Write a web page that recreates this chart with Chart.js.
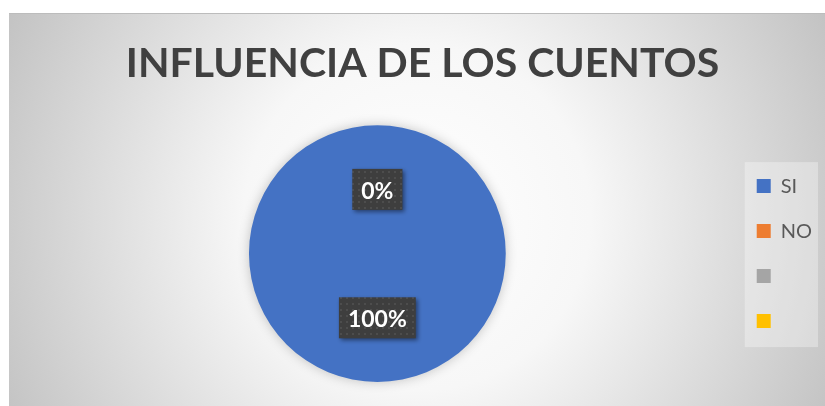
<!DOCTYPE html>
<html>
<head>
<meta charset="utf-8">
<script src="https://cdn.jsdelivr.net/npm/chart.js@4/dist/chart.umd.min.js"></script>
<style>
    html, body { margin: 0; padding: 0; background: #ffffff; overflow: hidden; }
    #box {
        position: absolute;
        left: 9px;
        top: 13px;
        width: 816px;
        height: 392px;
        border-top: 1px solid #bcbcbc;
        background: radial-gradient(circle farthest-corner at 50% 52%, #ffffff 0%, #f7f7f7 38%, #c3c3c3 100%);
    }
    canvas { display: block; }
</style>
</head>
<body>
<div id="box"><canvas id="chart" width="816" height="392"></canvas></div>
<script>
// ─── Data ──────────────────────────────────────────────────────────────────────

const titleText = "INFLUENCIA DE LOS CUENTOS";
const categories = ["SI", "NO", "", ""];
const percents = [100, 0, null, null];
const sliceColors = ["#4472C4", "#ED7D31", "#A5A5A5", "#FFC000"];

// ─── Plugins ───────────────────────────────────────────────────────────────────

// light backdrop behind the legend, like the Excel legend box
const legendBackdrop = {
    id: "legendBackdrop",
    beforeDraw(chart) {
        const lg = chart.legend;
        if (!lg || !lg.legendHitBoxes || !lg.legendHitBoxes.length) return;
        const hb = lg.legendHitBoxes;
        const last = hb[hb.length - 1];
        const x0 = hb[0].left - 12;
        const y0 = hb[0].top - 14;
        const x1 = lg.right - 4;
        const y1 = last.top + last.height + 16;
        const ctx = chart.ctx;
        ctx.save();
        ctx.fillStyle = "rgba(255,255,255,0.32)";
        ctx.fillRect(x0, y0, x1 - x0, y1 - y0);
        ctx.restore();
    },
};

// soft shadow under the pie
const pieShadow = {
    id: "pieShadow",
    beforeDatasetsDraw(chart) {
        const ctx = chart.ctx;
        ctx.save();
        ctx.shadowColor = "rgba(0,0,0,0.22)";
        ctx.shadowBlur = 12;
        ctx.shadowOffsetX = 0;
        ctx.shadowOffsetY = 0;
    },
    afterDatasetsDraw(chart) {
        chart.ctx.restore();
    },
};

function dotPattern(ctx) {
    const c = document.createElement("canvas");
    c.width = 6;
    c.height = 6;
    const p = c.getContext("2d");
    p.fillStyle = "#3e3e3e";
    p.fillRect(0, 0, 6, 6);
    p.fillStyle = "#4d4d4d";
    p.fillRect(1, 1, 2, 2);
    return ctx.createPattern(c, "repeat");
}

// dark boxed percentage labels at the middle of each slice
const boxedLabels = {
    id: "boxedLabels",
    afterDatasetsDraw(chart) {
        const ctx = chart.ctx;
        const meta = chart.getDatasetMeta(0);
        const data = chart.data.datasets[0].data;
        const fill = dotPattern(ctx);
        ctx.save();
        ctx.font = "bold 23px Lato, 'Open Sans', sans-serif";
        ctx.textAlign = "center";
        ctx.textBaseline = "middle";
        meta.data.forEach((arc, i) => {
            const v = data[i];
            if (v === null || v === undefined) return;
            const pos = arc.getCenterPoint();
            const text = v + "%";
            const w = ctx.measureText(text).width + 18;
            const h = 41;
            ctx.save();
            ctx.shadowColor = "rgba(0,0,0,0.45)";
            ctx.shadowBlur = 4;
            ctx.shadowOffsetX = 2;
            ctx.shadowOffsetY = 2;
            ctx.fillStyle = fill;
            ctx.fillRect(pos.x - w / 2, pos.y - h / 2, w, h);
            ctx.restore();
            ctx.fillStyle = "#ffffff";
            ctx.fillText(text, pos.x, pos.y + 2);
        });
        ctx.restore();
    },
};

// ─── Chart ─────────────────────────────────────────────────────────────────────

new Chart(document.getElementById("chart"), {
    type: "pie",
    data: {
        labels: categories,
        datasets: [{
            data: percents,
            backgroundColor: sliceColors,
            borderWidth: 0,
            offset: 0,
            hoverOffset: 0,
        }],
    },
    options: {
        responsive: false,
        animation: false,
        events: [],
        layout: {
            padding: { top: 0, left: 14, right: 3, bottom: 24 },
        },
        plugins: {
            title: {
                display: true,
                text: titleText,
                color: "#404040",
                font: { family: "Lato, 'Open Sans', sans-serif", size: 41, weight: "bold", lineHeight: 1.2 },
                padding: { top: 25, bottom: 37 },
            },
            legend: {
                position: "right",
                align: "center",
                fullSize: false,
                labels: {
                    boxWidth: 14,
                    boxHeight: 14,
                    padding: 25,
                    color: "#595959",
                    font: { family: "Lato, 'Open Sans', sans-serif", size: 20 },
                },
            },
            tooltip: { enabled: false },
        },
    },
    plugins: [legendBackdrop, pieShadow, boxedLabels],
});
</script>
</body>
</html>
